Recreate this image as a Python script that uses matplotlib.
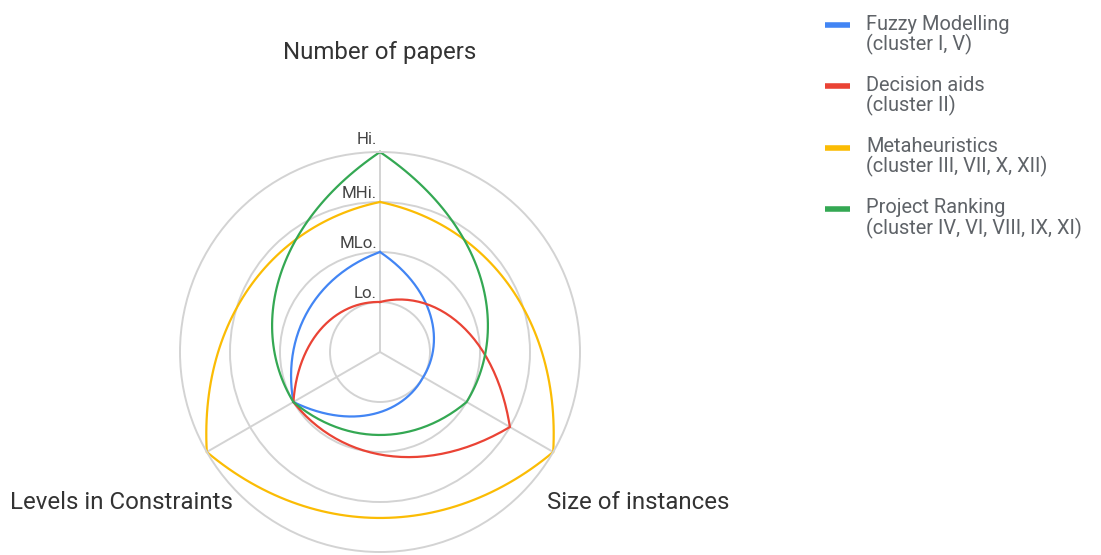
import numpy as np
import matplotlib
matplotlib.use("Agg")
import matplotlib.pyplot as plt
from matplotlib.lines import Line2D

# ---------------- data ----------------
axis_labels = ["Number of papers", "Size of instances", "Levels in Constraints"]
level_ticks = [1, 2, 3, 4]
level_labels = ["Lo.", "MLo.", "MHi.", "Hi."]

series_names = [
    "Fuzzy Modelling\n(cluster I, V)",
    "Decision aids\n(cluster II)",
    "Metaheuristics\n(cluster III, VII, X, XII)",
    "Project Ranking\n(cluster IV, VI, VIII, IX, XI)",
]
fuzzy_modelling = [2, 1, 2]
decision_aids = [1, 3, 2]
metaheuristics = [3, 4, 4]
project_ranking = [4, 2, 2]
series_values = [fuzzy_modelling, decision_aids, metaheuristics, project_ranking]
series_colors = ["#4285F4", "#EA4335", "#FBBC04", "#34A853"]

# ---------------- figure ----------------
W, H = 1101, 555
fig = plt.figure(figsize=(W / 100, H / 100), dpi=100)
plt.rcParams["font.family"] = ["Roboto", "DejaVu Sans"]

cx, cy, R = 380, 352, 200  # pixel centre / radius of the radar
ax = fig.add_axes([(cx - R) / W, (H - cy - R) / H, 2 * R / W, 2 * R / H],
                  projection="polar")
ax.set_theta_zero_location("N")
ax.set_theta_direction(-1)
vmax = level_ticks[-1]
ax.set_ylim(0, vmax)

n = len(axis_labels)
angles = np.arange(n) * 2 * np.pi / n

grid_color = "#d3d3d3"
ax.set_rgrids(level_ticks[:-1], labels=[""] * (len(level_ticks) - 1))
ax.set_thetagrids(np.degrees(angles), labels=[""] * n)
ax.grid(True, color=grid_color, linewidth=1.4)
ax.spines["polar"].set_color(grid_color)
ax.spines["polar"].set_linewidth(1.4)
ax.set_facecolor("none")
ax.tick_params(pad=0)


def radar_curve(values, samples=60):
    """Straight segments in (angle, value) space whose cubic control points
    are mapped to the polar plane (gives the curved radar look)."""
    vals = list(values) + [values[0]]
    xs, ys = [], []
    t = np.linspace(0, 1, samples)
    for i in range(n):
        th0 = angles[i]
        dth = 2 * np.pi / n
        r0, r1 = vals[i], vals[i + 1]
        ctrl = []
        for f in (0, 1 / 3, 2 / 3, 1):
            th = th0 + f * dth
            r = r0 + f * (r1 - r0)
            ctrl.append((r * np.sin(th), r * np.cos(th)))
        ctrl = np.array(ctrl)
        b = ((1 - t) ** 3)[:, None] * ctrl[0] + (3 * (1 - t) ** 2 * t)[:, None] * ctrl[1] \
            + (3 * (1 - t) * t ** 2)[:, None] * ctrl[2] + (t ** 3)[:, None] * ctrl[3]
        xs.append(b[:, 0])
        ys.append(b[:, 1])
    x = np.concatenate(xs)
    y = np.concatenate(ys)
    theta = np.unwrap(np.arctan2(x, y))
    rr = np.hypot(x, y)
    return theta, rr


for vals, col in zip(series_values, series_colors):
    th, rr = radar_curve(vals)
    ax.plot(th, rr, color=col, linewidth=1.6, clip_on=False, solid_joinstyle="miter")

# ring labels
label_color = "#444444"
for v, lab in zip(level_ticks, level_labels):
    ax.annotate(lab, xy=(0, v), xytext=(-3, 4 if v < vmax else 8),
                textcoords="offset pixels", ha="right", va="baseline",
                fontsize=12.2, color=label_color)

# axis labels
offsets = [(0, 93), (85, -57), (-85, -57)]
for ang, lab, off in zip(angles, axis_labels, offsets):
    ax.annotate(lab, xy=(ang, vmax), xytext=off, textcoords="offset pixels",
                ha="center", va="baseline", fontsize=17.3, color="#333333",
                annotation_clip=False)

# legend (manual, Google-Sheets style)
leg_x_line0, leg_x_line1, leg_x_text = 825, 850, 866
leg_top, leg_step, line_gap = 25, 61.3, 20.7
for i, (name, col) in enumerate(zip(series_names, series_colors)):
    ym = leg_top + i * leg_step
    fig.add_artist(Line2D([leg_x_line0 / W, leg_x_line1 / W], [1 - ym / H, 1 - ym / H],
                          color=col, linewidth=4, solid_capstyle="butt",
                          transform=fig.transFigure))
    for j, line in enumerate(name.split("\n")):
        base = ym + 4.5 + j * line_gap
        fig.text(leg_x_text / W, 1 - base / H, line, ha="left", va="baseline",
                 fontsize=14.4, color="#5f6368")

fig.savefig("out.png", dpi=100)
